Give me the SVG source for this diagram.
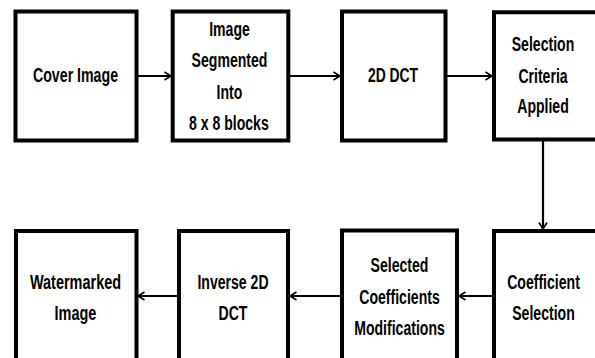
<svg xmlns="http://www.w3.org/2000/svg" width="595" height="358" viewBox="0 0 595 358">
<defs>
<style>
.box{fill:#fff;stroke:#000;stroke-width:4}
.t{font-family:"Liberation Sans",Arial,sans-serif;font-weight:bold;font-size:21px;fill:#000;text-anchor:middle}
.c{stroke:#000;stroke-width:2.2;fill:none}
</style>
<marker id="ah" viewBox="0 0 8 10" refX="7.5" refY="5" markerWidth="8" markerHeight="10" markerUnits="userSpaceOnUse" orient="auto">
<path d="M1,1 L7.5,5 L1,9" fill="none" stroke="#000" stroke-width="1.6"/>
</marker>
</defs>
<rect width="595" height="358" fill="#fff"/>
<g id="connectors">
<line class="c" x1="138" y1="76" x2="171" y2="76" marker-end="url(#ah)"/>
<line class="c" x1="290" y1="76" x2="340" y2="76" marker-end="url(#ah)"/>
<line class="c" x1="447" y1="76" x2="492" y2="76" marker-end="url(#ah)"/>
<line class="c" x1="543" y1="141" x2="543" y2="229" marker-end="url(#ah)"/>
<line class="c" x1="492" y1="296" x2="459" y2="296" marker-end="url(#ah)"/>
<line class="c" x1="340" y1="296" x2="290" y2="296" marker-end="url(#ah)"/>
<line class="c" x1="177" y1="296" x2="138" y2="296" marker-end="url(#ah)"/>
</g>
<g id="cover">
<rect class="box" x="15.5" y="11.5" width="121" height="129"/>
<g transform="translate(75.5,0) scale(0.675,1)">
<text class="t" x="0" y="82">Cover Image</text>
</g>
</g>
<g id="segment">
<rect class="box" x="172.7" y="11.5" width="115.6" height="129"/>
<g transform="translate(229.5,0) scale(0.67,1)">
<text class="t" x="0" y="36">Image</text>
<text class="t" x="0" y="67">Segmented</text>
<text class="t" x="0" y="99">Into</text>
<text class="t" x="-1" y="130">8 x 8 blocks</text>
</g>
</g>
<g id="dct">
<rect class="box" x="342" y="11.5" width="103.5" height="129"/>
<g transform="translate(393,0) scale(0.66,1)">
<text class="t" x="0" y="82">2D DCT</text>
</g>
</g>
<g id="criteria">
<path class="box" d="M597,12.3 H494 V139.5 H597"/>
<g transform="translate(543,0) scale(0.67,1)">
<text class="t" x="0" y="51">Selection</text>
<text class="t" x="0" y="83">Criteria</text>
<text class="t" x="0" y="113">Applied</text>
</g>
</g>
<g id="coefsel">
<path class="box" d="M597,231 H494 V360"/>
<g transform="translate(543.5,0) scale(0.67,1)">
<text class="t" x="0" y="289">Coefficient</text>
<text class="t" x="0" y="320">Selection</text>
</g>
</g>
<g id="modif">
<path class="box" d="M342,360 V230.5 H457 V360"/>
<g transform="translate(399.5,0) scale(0.67,1)">
<text class="t" x="0" y="272">Selected</text>
<text class="t" x="0" y="304">Coefficients</text>
<text class="t" x="0" y="335">Modifications</text>
</g>
</g>
<g id="inverse">
<path class="box" d="M179,360 V231 H288 V360"/>
<g transform="translate(233,0) scale(0.67,1)">
<text class="t" x="0" y="289">Inverse 2D</text>
<text class="t" x="0" y="320">DCT</text>
</g>
</g>
<g id="watermarked">
<path class="box" d="M16,360 V231 H136.5 V360"/>
<g transform="translate(75.5,0) scale(0.69,1)">
<text class="t" x="0" y="289">Watermarked</text>
<text class="t" x="0" y="320">Image</text>
</g>
</g>
</svg>
